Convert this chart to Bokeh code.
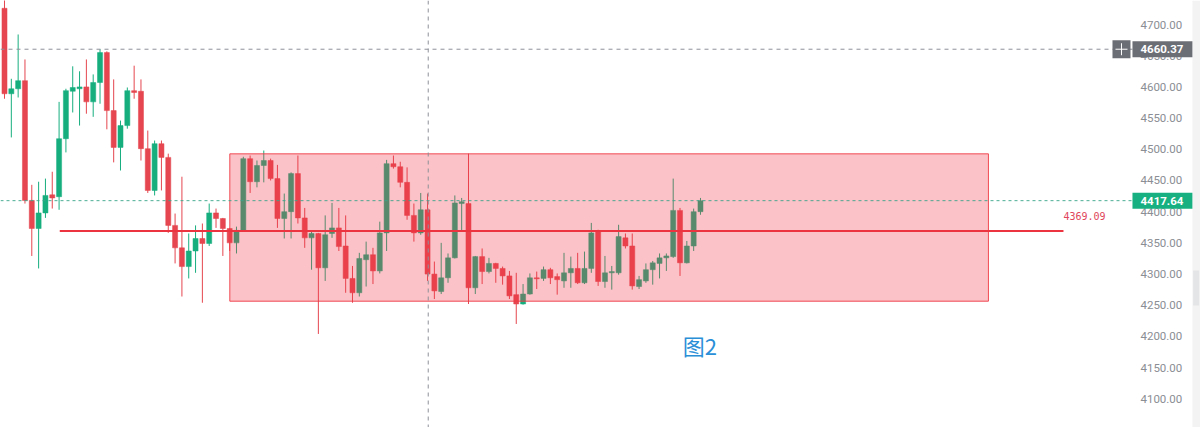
from bokeh.plotting import figure
from bokeh.models import (Range1d, Span, Label, SingleIntervalTicker,
                          PrintfTickFormatter, ColumnDataSource)
from bokeh.embed import file_html
from bokeh.resources import INLINE

# ---- candle data ----
opens = [4726, 4589, 4597, 4610, 4418, 4373, 4398, 4427, 4424, 4517,
         4593, 4597, 4600, 4576, 4607, 4655, 4562, 4503, 4538, 4594,
         4593, 4501, 4434, 4509, 4487, 4378, 4342, 4312, 4337, 4357,
         4349, 4398, 4389, 4373, 4350, 4370, 4485, 4448, 4474, 4482,
         4453, 4389, 4400, 4461, 4390, 4358, 4365, 4310, 4365, 4374,
         4345, 4293, 4270, 4323, 4331, 4305, 4366, 4477, 4472, 4447,
         4394, 4366, 4403, 4300, 4272, 4294, 4326, 4413, 4413, 4278,
         4328, 4304, 4317, 4309, 4297, 4267, 4252, 4268, 4294, 4293,
         4307, 4296, 4289, 4302, 4309, 4286, 4309, 4368, 4288, 4302,
         4302, 4358, 4345, 4280, 4289, 4307, 4317, 4326, 4328, 4402,
         4318, 4345, 4400]
highs = [4740, 4613, 4684, 4644, 4443, 4448, 4453, 4464, 4576, 4597,
         4633, 4625, 4644, 4620, 4660.37, 4657, 4612, 4546, 4599, 4634,
         4612, 4530, 4514, 4514, 4493, 4397, 4456, 4365, 4378, 4381,
         4413, 4405, 4390, 4374, 4376, 4488, 4490, 4482, 4498, 4485,
         4475, 4429, 4463, 4490, 4406, 4368, 4366, 4394, 4414, 4406,
         4394, 4313, 4334, 4352, 4342, 4384, 4483, 4490, 4480, 4471,
         4413, 4430, 4429, 4320, 4350, 4333, 4426, 4422, 4493, 4329,
         4341, 4326, 4318, 4312, 4305, 4302, 4284, 4301, 4304, 4312,
         4310, 4301, 4334, 4328, 4334, 4336, 4382, 4371, 4329, 4313,
         4379, 4365, 4365, 4297, 4317, 4321, 4333, 4333, 4453, 4406,
         4353, 4405, 4422]
lows = [4581, 4519, 4583, 4413, 4329, 4309, 4390, 4405, 4403, 4495,
        4559, 4538, 4557, 4552, 4573, 4532, 4479, 4466, 4533, 4581,
        4482, 4430, 4426, 4434, 4366, 4317, 4264, 4293, 4302, 4254,
        4345, 4374, 4329, 4337, 4333, 4368, 4430, 4439, 4447, 4450,
        4374, 4357, 4357, 4381, 4342, 4307, 4204, 4289, 4358, 4337,
        4270, 4254, 4264, 4280, 4284, 4301, 4337, 4469, 4439, 4387,
        4352, 4363, 4289, 4260, 4268, 4286, 4325, 4370, 4252, 4268,
        4284, 4301, 4286, 4283, 4260, 4220, 4251, 4267, 4276, 4289,
        4284, 4267, 4278, 4278, 4284, 4284, 4302, 4281, 4278, 4275,
        4299, 4341, 4275, 4276, 4286, 4283, 4293, 4305, 4326, 4297,
        4317, 4337, 4395]
closes = [4589, 4597, 4610, 4418, 4373, 4398, 4426, 4422, 4517, 4594,
          4599, 4600, 4576, 4607, 4655, 4562, 4503, 4538, 4594, 4591,
          4501, 4434, 4509, 4487, 4378, 4342, 4312, 4337, 4357, 4349,
          4398, 4389, 4373, 4350, 4370, 4485, 4448, 4474, 4482, 4453,
          4389, 4400, 4461, 4390, 4358, 4365, 4310, 4363, 4374, 4344,
          4293, 4270, 4325, 4331, 4305, 4366, 4477, 4472, 4447, 4394,
          4366, 4403, 4300, 4273, 4294, 4326, 4414, 4416, 4278, 4328,
          4304, 4317, 4309, 4297, 4265, 4252, 4268, 4294, 4293, 4307,
          4294, 4291, 4302, 4309, 4286, 4309, 4366, 4288, 4302, 4304,
          4360, 4345, 4281, 4291, 4307, 4318, 4326, 4329, 4402, 4318,
          4345, 4400, 4417.64]

# ---- drawing annotations (time index / price) ----
zone_left, zone_right = 33.02, 144.2
zone_bottom, zone_top = 4256.5, 4492.7
level_price = 4369.09
level_start, level_end = 8.1, 155.2
cross_index = 62.1
cross_price = 4660.37
last_price = 4417.64
caption = "图2"
caption_index, caption_price = 99.4, 4187.0

GREEN = "#17ae7e"
RED = "#e5464f"

idx = list(range(len(opens)))
colors = [GREEN if c >= o else RED for o, c in zip(opens, closes)]
body_top = [max(o, c) for o, c in zip(opens, closes)]
body_bot = [min(o, c) for o, c in zip(opens, closes)]
body_bot = [b if t - b >= 1.6 else t - 1.6 for t, b in zip(body_top, body_bot)]

src = ColumnDataSource(dict(x=idx, o=opens, h=highs, l=lows, c=closes,
                            top=body_top, bot=body_bot, color=colors))

X_START, X_END = -0.586, 175.28   # whole canvas width
Y_START, Y_END = 4054.05, 4738.47
SCALE_X = 165.31                  # where the price scale begins
SCROLL_X = 174.1                  # thin scroll strip at the right edge
p = figure(width=1200, height=427, output_backend="svg", toolbar_location=None,
           x_range=Range1d(X_START, X_END), y_range=Range1d(Y_START, Y_END),
           x_axis_location=None, y_axis_location="right", min_border=0)
p.outline_line_color = None
p.background_fill_color = "white"
p.border_fill_color = "white"
p.xgrid.visible = False
p.ygrid.visible = False

ax = p.yaxis[0]
ax.fixed_location = SCALE_X
ax.ticker = SingleIntervalTicker(interval=50, num_minor_ticks=0)
ax.formatter = PrintfTickFormatter(format="%.2f")
ax.axis_line_color = None
ax.major_tick_line_color = None
ax.minor_tick_line_color = None
ax.major_tick_out = 0
ax.major_tick_in = 0
ax.major_label_standoff = 8
ax.major_label_text_font = "Roboto"
ax.major_label_text_font_size = "11.5px"
ax.major_label_text_color = "#8b8e94"

# scroll strip
p.quad(left=[SCROLL_X], right=[X_END], bottom=[Y_START], top=[Y_END],
       fill_color="#f3f3f4", line_color=None)
p.quad(left=[SCROLL_X + 0.1], right=[X_END - 0.2], bottom=[4249.6], top=[4305.7],
       fill_color="#e4e5e7", line_color=None)

# candles
p.segment(x0="x", x1="x", y0="l", y1="h", color="color", line_width=1, source=src)
p.vbar(x="x", top="top", bottom="bot", width=0.74, fill_color="color",
       line_color="color", line_width=0.5, source=src)

# zone rectangle (on top of candles, translucent)
p.quad(left=[zone_left], right=[zone_right], bottom=[zone_bottom], top=[zone_top],
       fill_color="#f23645", fill_alpha=0.3, line_color="#ee3a45", line_alpha=0.9,
       line_width=1)

# red level line
p.segment(x0=[level_start], x1=[level_end], y0=[level_price], y1=[level_price],
          line_color="#ec3440", line_width=2)

# crosshair & price lines (stop at the price scale)
p.add_layout(Span(location=cross_index, dimension="height", line_color="#8e9199",
                  line_dash="4 4", line_width=1))
p.segment(x0=[X_START], x1=[SCALE_X], y0=[cross_price], y1=[cross_price],
          line_color="#8e9199", line_dash="4 4", line_width=1)
p.segment(x0=[X_START], x1=[SCALE_X], y0=[last_price], y1=[last_price],
          line_color="#3aa58a", line_alpha=0.9, line_dash="3 3", line_width=1)

# "+" box on crosshair
p.rect(x=[163.7], y=[cross_price], width=18, height=18, width_units="screen",
       height_units="screen", fill_color="#6b6e75", line_color=None)
p.scatter(x=[163.7], y=[cross_price], marker="cross", size=12, line_color="white",
          line_width=1)

# price labels on the scale
p.add_layout(Label(x=SCALE_X, y=cross_price, text=f"{cross_price:.2f}",
                   text_align="left", text_baseline="middle",
                   text_font="Roboto", text_font_size="11.5px", text_font_style="bold",
                   text_color="white", background_fill_color="#6b6e75",
                   padding=(8, 9, 4, 4)))
p.add_layout(Label(x=SCALE_X, y=last_price, text=f"{last_price:.2f}",
                   text_align="left", text_baseline="middle",
                   text_font="Roboto", text_font_size="11.5px", text_font_style="bold",
                   text_color="white", background_fill_color="#17b080",
                   padding=(8, 9, 4, 4)))

# level value label
p.add_layout(Label(x=level_end, y=level_price, text=f"{level_price:.2f}",
                   text_align="left", text_baseline="middle", y_offset=15,
                   text_font="DejaVu Sans Mono", text_font_size="10px",
                   text_color="#e0455a"))

# caption
p.add_layout(Label(x=caption_index, y=caption_price, text=caption,
                   text_align="left", text_baseline="middle",
                   text_font="Noto Sans CJK SC", text_font_size="22px",
                   text_color="#2b8fd8"))

open("out.html", "w").write(file_html(p, INLINE))
